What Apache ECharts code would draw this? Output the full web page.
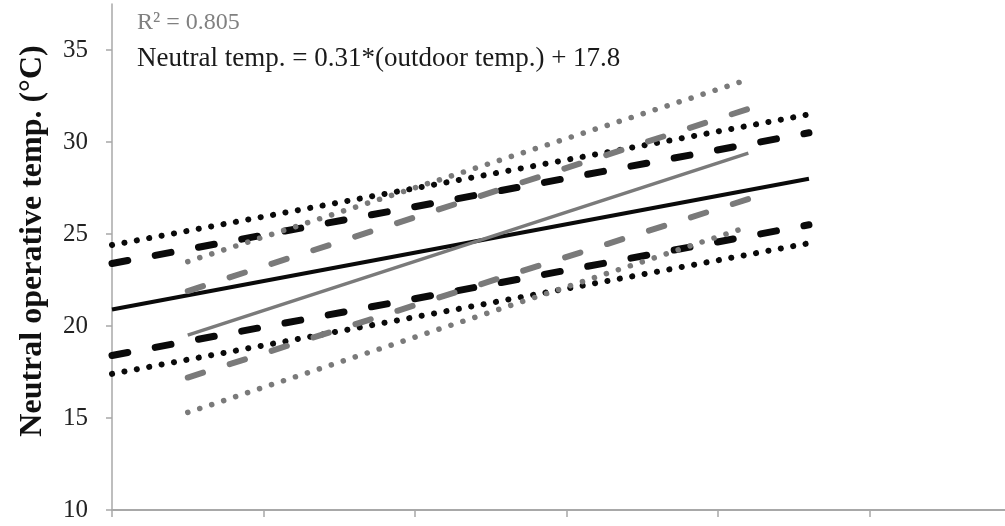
<!DOCTYPE html>
<html>
<head>
<meta charset="utf-8">
<script src="https://cdn.jsdelivr.net/npm/echarts@6/dist/echarts.min.js"></script>
<style>
  html, body { margin: 0; padding: 0; background: #fff; }
  #chart { width: 1005px; height: 526px; }
</style>
</head>
<body>
<div id="chart"></div>
<script>
// Outdoor temperature (°C) at the ends of each trend line
const outdoorBlack = [10, 33];
const outdoorGray = [12.5, 31];

// Neutral operative temperature (°C) — black family
const blackFit = [20.9, 28.0];
const blackDashHigh = [23.4, 30.5];
const blackDashLow = [18.4, 25.5];
const blackDotHigh = [24.4, 31.5];
const blackDotLow = [17.4, 24.5];

// Neutral operative temperature (°C) — gray family
const grayFit = [19.5, 29.4];
const grayDashHigh = [21.9, 31.8];
const grayDashLow = [17.2, 26.9];
const grayDotHigh = [23.5, 33.4];
const grayDotLow = [15.3, 25.4];

// Tick positions
const xTicks = [10, 15, 20, 25, 30, 35];
const yTicks = [10, 15, 20, 25, 30, 35];

const r2Text = 'R² = 0.805';
const eqText = 'Neutral temp. = 0.31*(outdoor temp.) + 17.8';
const yName = 'Neutral operative temp. (°C)';

const BLACK = '#0a0a0a';
const GRAY = '#7a7a7a';
const AXIS = '#a8a8a8';

function pairs(xs, ys) {
  return xs.map((x, i) => [x, ys[i]]);
}

function line(name, xs, ys, color, width, type, cap) {
  return {
    name: name,
    type: 'line',
    data: pairs(xs, ys),
    showSymbol: false,
    symbol: 'none',
    silent: true,
    lineStyle: { color: color, width: width, type: type, cap: cap || 'butt' }
  };
}

const DOT = [0.1, 12.5];
const DASH = [16, 28];

const series = [
  line('blackDotHigh', outdoorBlack, blackDotHigh, BLACK, 6, DOT, 'round'),
  line('blackDotLow', outdoorBlack, blackDotLow, BLACK, 6, DOT, 'round'),
  line('blackDashHigh', outdoorBlack, blackDashHigh, BLACK, 7, DASH, 'round'),
  line('blackDashLow', outdoorBlack, blackDashLow, BLACK, 7, DASH, 'round'),
  line('blackFit', outdoorBlack, blackFit, BLACK, 4, 'solid'),
  line('grayDotHigh', outdoorGray, grayDotHigh, GRAY, 5.5, DOT, 'round'),
  line('grayDotLow', outdoorGray, grayDotLow, GRAY, 5.5, DOT, 'round'),
  line('grayDashHigh', outdoorGray, grayDashHigh, GRAY, 6, DASH, 'round'),
  line('grayDashLow', outdoorGray, grayDashLow, GRAY, 6, DASH, 'round'),
  line('grayFit', outdoorGray, grayFit, GRAY, 3.5, 'solid')
];

const chart = echarts.init(document.getElementById('chart'), null, { renderer: 'canvas' });

chart.setOption({
  animation: false,
  backgroundColor: '#ffffff',
  grid: { left: 112, right: 0, top: 4, bottom: 16, containLabel: false },
  xAxis: {
    type: 'value',
    min: 10,
    max: 39.47,
    axisLine: { show: true, lineStyle: { color: AXIS, width: 2 } },
    axisTick: { show: true, length: 7, customValues: xTicks, lineStyle: { color: AXIS, width: 1.5 } },
    axisLabel: { show: false },
    splitLine: { show: false }
  },
  yAxis: {
    type: 'value',
    min: 10,
    max: 37.5,
    axisLine: { show: true, lineStyle: { color: AXIS, width: 1.5 } },
    axisTick: { show: true, length: 6, customValues: yTicks, lineStyle: { color: AXIS, width: 1.5 } },
    axisLabel: {
      margin: 24,
      fontFamily: 'Liberation Serif',
      fontSize: 25,
      color: '#222',
      customValues: yTicks
    },
    splitLine: { show: false }
  },
  graphic: [
    {
      type: 'text',
      x: 33,
      y: 241,
      rotation: Math.PI / 2,
      style: {
        text: yName,
        fontFamily: 'Liberation Serif',
        fontWeight: 'bold',
        fontSize: 32,
        fill: '#111',
        align: 'center',
        verticalAlign: 'middle'
      }
    },
    {
      type: 'text',
      left: 137,
      top: 11,
      style: { text: r2Text, fontFamily: 'Liberation Serif', fontSize: 24, fill: '#808080' }
    },
    {
      type: 'text',
      left: 137,
      top: 45,
      style: { text: eqText, fontFamily: 'Liberation Serif', fontSize: 27, fill: '#1a1a1a' }
    }
  ],
  series: series
});
</script>
</body>
</html>
